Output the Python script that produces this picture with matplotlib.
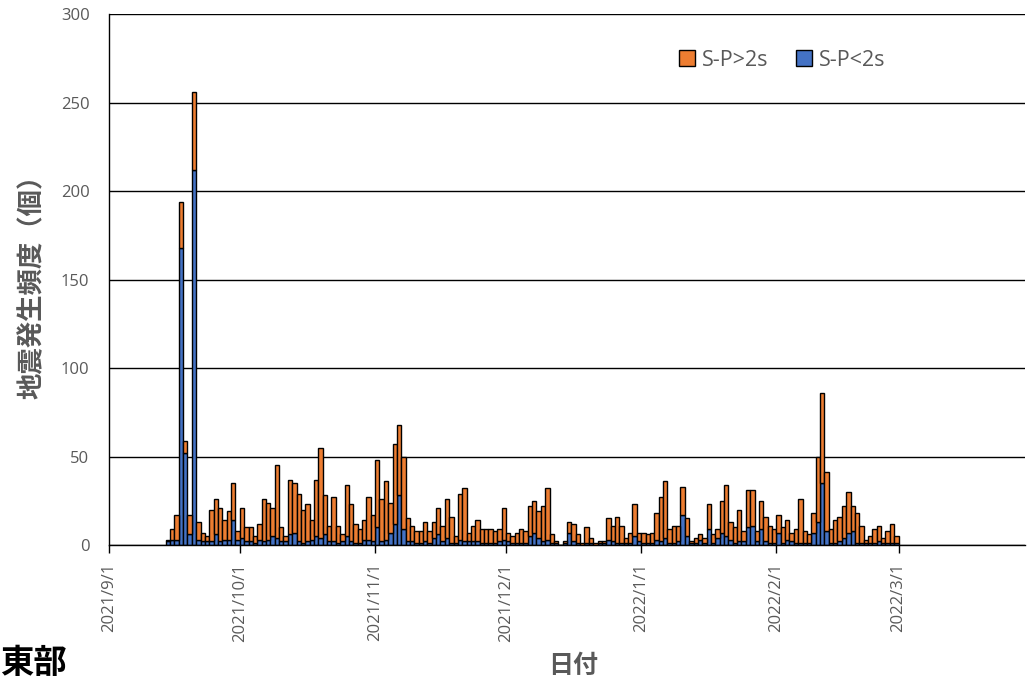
import matplotlib

matplotlib.use("Agg")
import matplotlib.pyplot as plt  # noqa: E402
import pandas as pd  # noqa: E402

# daily counts from 2021/9/14 to 2022/2/28
start_date = "2021-09-14"
sp_under_2s = [
    2, 3, 3, 168, 52, 6, 212, 3, 2, 2, 2, 6, 2, 3, 3, 14, 3, 4, 2, 2,
    1, 3, 2, 3, 5, 4, 2, 2, 6, 7, 2, 1, 2, 3, 5, 4, 6, 2, 2, 1,
    2, 5, 2, 1, 1, 3, 3, 2, 10, 2, 3, 7, 12, 28, 9, 2, 2, 1, 1, 2,
    1, 4, 6, 2, 4, 1, 1, 3, 2, 2, 2, 2, 1, 1, 1, 1, 2, 3, 2, 1,
    1, 1, 1, 5, 7, 4, 2, 3, 1, 1, 0, 1, 7, 2, 1, 0, 1, 1, 0, 1,
    1, 3, 2, 1, 1, 1, 1, 5, 2, 1, 1, 1, 3, 2, 4, 1, 1, 2, 17, 5,
    1, 1, 3, 1, 9, 1, 4, 7, 5, 3, 1, 2, 2, 10, 11, 2, 9, 2, 1, 1,
    7, 1, 3, 2, 1, 1, 1, 1, 7, 13, 35, 8, 1, 1, 2, 4, 7, 8, 1, 1,
    1, 1, 1, 2, 1, 1, 1, 1,
]
sp_over_2s = [
    1, 6, 14, 26, 7, 11, 44, 10, 5, 3, 18, 20, 19, 11, 16, 21, 5, 17, 8, 8,
    4, 9, 24, 21, 16, 41, 8, 3, 31, 28, 27, 19, 21, 11, 32, 51, 22, 9, 25, 10,
    4, 29, 21, 11, 8, 11, 24, 15, 38, 24, 33, 17, 45, 40, 41, 13, 9, 7, 7, 11,
    7, 9, 15, 9, 22, 15, 4, 26, 30, 5, 9, 12, 8, 8, 8, 7, 7, 18, 5, 4,
    6, 8, 7, 17, 18, 15, 20, 29, 5, 1, 0, 1, 6, 10, 5, 1, 9, 3, 1, 1,
    1, 12, 9, 15, 10, 3, 6, 18, 5, 6, 5, 6, 15, 25, 32, 8, 10, 9, 16, 10,
    1, 3, 3, 3, 14, 5, 5, 18, 29, 10, 9, 18, 6, 21, 20, 6, 16, 14, 10, 8,
    10, 9, 11, 5, 8, 25, 7, 5, 11, 37, 51, 33, 8, 13, 14, 18, 23, 14, 17, 10,
    2, 4, 8, 9, 3, 7, 11, 4,
]
month_ticks = ["2021-09-01", "2021-10-01", "2021-11-01", "2021-12-01",
               "2022-01-01", "2022-02-01", "2022-03-01"]
y_ticks = [0, 50, 100, 150, 200, 250, 300]

ORANGE = "#ED7D31"
BLUE = "#4472C4"
GRAY = "#595959"

plt.rcParams["font.family"] = ["Open Sans", "DejaVu Sans"]
jp = ["Noto Sans CJK JP", "DejaVu Sans"]

dates = pd.date_range(start_date, periods=len(sp_under_2s), freq="D")

fig = plt.figure(figsize=(10.27, 6.81), dpi=100)
ax = fig.add_axes([0.1061, 0.1997, 0.892, 0.7797])

b_low = ax.bar(dates, sp_under_2s, width=1.0, align="edge", color=BLUE,
               edgecolor="black", linewidth=1.0, label="S-P<2s")
b_high = ax.bar(dates, sp_over_2s, width=1.0, align="edge", bottom=sp_under_2s,
                color=ORANGE, edgecolor="black", linewidth=1.0, label="S-P>2s")

ax.set_ylim(0, 300)
ax.set_yticks(y_ticks)
ax.set_xlim(pd.Timestamp("2021-09-01"), pd.Timestamp("2022-03-30"))
ticks = pd.to_datetime(month_ticks)
ax.set_xticks(ticks)
ax.set_xticklabels([f"{t.year}/{t.month}/{t.day}" for t in ticks], rotation=90)
ax.xaxis.set_minor_locator(plt.NullLocator())

ax.set_axisbelow(True)
ax.yaxis.grid(True, color="black", linewidth=1.0)
for side in ("top", "right"):
    ax.spines[side].set_visible(False)
for side in ("left", "bottom"):
    ax.spines[side].set_color("black")
    ax.spines[side].set_linewidth(1.0)

ax.tick_params(axis="x", direction="out", length=6, width=1.0, color="black",
               labelcolor=GRAY, labelsize=12, pad=7)
ax.tick_params(axis="y", length=0, labelcolor=GRAY, labelsize=12, pad=14)

ax.legend(handles=[b_high, b_low], loc="center", bbox_to_anchor=(0.735, 0.913),
          ncol=2, frameon=False, fontsize=15.5, labelcolor=GRAY,
          handlelength=0.75, handleheight=0.75, handletextpad=0.3,
          columnspacing=1.3)

fig.text(32 / 1027, 1 - 280 / 681, "地震発生頻度（個）", rotation=90,
         ha="center", va="center", fontsize=19, fontweight="bold",
         color=GRAY, family=jp)
fig.text(573 / 1027, 1 - 666 / 681, "日付", ha="center", va="center",
         fontsize=18, fontweight="bold", color=GRAY, family=jp)
fig.text(0.0, 1 - 664 / 681, "東部", ha="left", va="center",
         fontsize=24, fontweight="bold", color="black", family=jp)

fig.savefig("out.png", dpi=100)
